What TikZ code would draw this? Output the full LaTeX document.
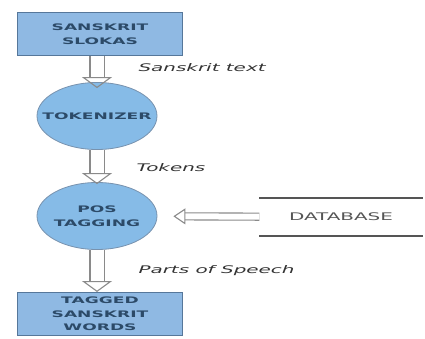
\documentclass[tikz,border=0pt]{standalone}
\usepackage{fontspec}
\newfontfamily\flowfont[FakeStretch=1.9]{DejaVu Sans}
\usetikzlibrary{arrows.meta,shapes.geometric}

\begin{document}
\begin{tikzpicture}[x=1pt,y=-1pt,font=\flowfont]

\definecolor{nbox}{HTML}{8FB9E3} % light blue
\definecolor{ebox}{HTML}{86BBE7} % lighter blue
\definecolor{nline}{HTML}{56779A} % slate blue
\definecolor{ntxt}{HTML}{2C4A68} % dark slate
\definecolor{aline}{HTML}{8A8A8A} % mid grey
\definecolor{ltxt}{HTML}{333333} % off-black
\definecolor{dbtxt}{HTML}{555555} % grey

\tikzstyle{stage}=[rectangle,draw=nline,fill=nbox,line width=1pt,
	minimum width=165pt,minimum height=43pt,inner sep=0pt,
	align=center,text=ntxt,font=\flowfont\bfseries\fontsize{9}{13.5}\selectfont]

\tikzstyle{stepnode}=[ellipse,draw=nline!80,fill=ebox,line width=0.8pt,
	minimum width=120pt,minimum height=67pt,inner xsep=-14pt,inner ysep=-4pt,
	align=center,text=ntxt,font=\flowfont\bfseries\fontsize{9}{13.5}\selectfont]

\tikzstyle{lbl}=[anchor=west,text=ltxt,font=\flowfont\itshape\fontsize{10.5}{12}\selectfont]

\tikzstyle{flow}=[draw=aline,line width=1.1pt,double=white,double distance=13pt,
	-{Triangle[open,width=30pt,length=11pt]}]
\tikzstyle{feed}=[draw=aline,line width=1.1pt,double=white,double distance=6pt,
	-{Triangle[open,width=16pt,length=12pt]}]

  \useasboundingbox (0,0) rectangle (425,339);

  \node  (slokas) at (100,34)  [stage]    {SANSKRIT\\SLOKAS};
  \node  (tok)    at (97,116)  [stepnode] {TOKENIZER};
  \node  (pos)    at (97,216)  [stepnode] {POS\\TAGGING};
  \node  (words)  at (100,314) [stage]    {TAGGED\\SANSKRIT\\WORDS};

  \node  (db) at (341,217) [minimum width=163pt,minimum height=38pt,inner sep=0pt,
         text=dbtxt,font=\flowfont\fontsize{10.5}{12}\selectfont] {DATABASE};
  \draw [line width=1.6pt,draw=dbtxt] (db.north west) -- (db.north east)
        (db.south west) -- (db.south east);

  \node  (l1) at (135,68)  [lbl] {Sanskrit text};
  \node  (l2) at (133,168) [lbl] {Tokens};
  \node  (l3) at (135,271) [lbl] {Parts of Speech};

  \path (slokas.south -| tok.north) edge [flow] ([yshift=-6pt]tok.north)
        (tok.south)    edge [flow] ([yshift=-2pt]pos.north)
        (pos.south)    edge [flow] (words.north -| pos.south)
        (db)           edge [feed,shorten >=16pt] (pos);

\end{tikzpicture}
\end{document}
